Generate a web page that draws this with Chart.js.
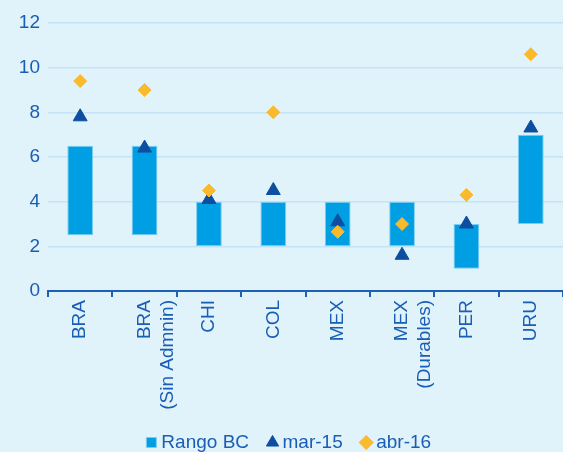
<!DOCTYPE html>
<html>
<head>
<meta charset="utf-8">
<script src="https://cdn.jsdelivr.net/npm/chart.js@4/dist/chart.umd.min.js"></script>
<style>
html,body{margin:0;padding:0;background:#e0f2fa;}
#wrap{width:563px;height:452px;}
</style>
</head>
<body>
<div id="wrap"><canvas id="grafico"></canvas></div>
<script>
const paises = [
"BRA",
["BRA","(Sin Admnin)"],
"CHI",
"COL",
"MEX",
["MEX","(Durables)"],
"PER",
"URU"
];

const rangoMin = [2.5, 2.5, 2, 2, 2, 2, 1, 3];
const rangoMax = [6.5, 6.5, 4, 4, 4, 4, 3, 7];
const mar15 = [7.8, 6.4, 4.1, 4.5, 3.1, 1.6, 3.0, 7.3];
const abr16 = [9.4, 9.0, 4.5, 8.0, 2.65, 3.0, 4.3, 10.6];
const ticksY = [0, 2, 4, 6, 8, 10, 12];

const azulTexto = "#1a5db5";

const fondo = {
id:"fondo",
beforeDraw(chart){
const ctx = chart.ctx;
ctx.save();
ctx.fillStyle = "#e0f2fa";
ctx.fillRect(0,0,chart.width,chart.height);
ctx.restore();
}
};

Chart.defaults.font.family = "'Liberation Sans', Arial, sans-serif";
Chart.defaults.font.size = 19;
Chart.defaults.color = azulTexto;

new Chart(document.getElementById("grafico"),{
type:"bar",
data:{
labels:paises,
datasets:[
{
label:"Rango BC",
data:rangoMin.map((v,i)=>[v,rangoMax[i]]),
backgroundColor:"#009fe3",
borderColor:"#7dcdf1",
borderWidth:1,
borderSkipped:false,
barPercentage:0.4,
categoryPercentage:1,
pointStyle:"rect",
order:3
},
{
type:"line",
label:"mar-15",
data:mar15,
showLine:false,
pointStyle:"triangle",
pointRadius:8,
pointBackgroundColor:"#0d4ea0",
pointBorderColor:"#0d4ea0",
backgroundColor:"#0d4ea0",
borderColor:"#0d4ea0",
order:2
},
{
type:"line",
label:"abr-16",
data:abr16,
showLine:false,
pointStyle:"rectRot",
pointRadius:6.5,
pointBackgroundColor:"#fbb92c",
pointBorderColor:"#fbb92c",
backgroundColor:"#fbb92c",
borderColor:"#fbb92c",
order:1
}
]
},
options:{
responsive:true,
maintainAspectRatio:false,
animation:false,
layout:{autoPadding:false,padding:{top:23,right:0,bottom:-10,left:19}},
plugins:{
tooltip:{enabled:false},
legend:{
position:"bottom",
labels:{
usePointStyle:true,
boxWidth:1,
boxHeight:10,
padding:23,
color:azulTexto,
sort:(a,b)=>a.datasetIndex-b.datasetIndex
}
}
},
scales:{
x:{
offset:true,
afterFit(scale){scale.height = 119;},
grid:{
offset:true,
drawOnChartArea:false,
color:"#1f5fb5",
lineWidth:2,
tickLength:6
},
border:{color:"#1f5fb5",width:2},
ticks:{
minRotation:90,
maxRotation:90,
autoSkip:false,
padding:3,
color:azulTexto
}
},
y:{
min:0,
max:12,
afterFit(scale){scale.width = 29;},
afterBuildTicks(scale){scale.ticks = ticksY.map(v=>({value:v}));},
grid:{
color:"#c3e4f6",
lineWidth:1.5,
drawTicks:false
},
border:{display:false},
ticks:{
padding:8,
color:azulTexto
}
}
}
},
plugins:[fondo]
});
</script>
</body>
</html>
